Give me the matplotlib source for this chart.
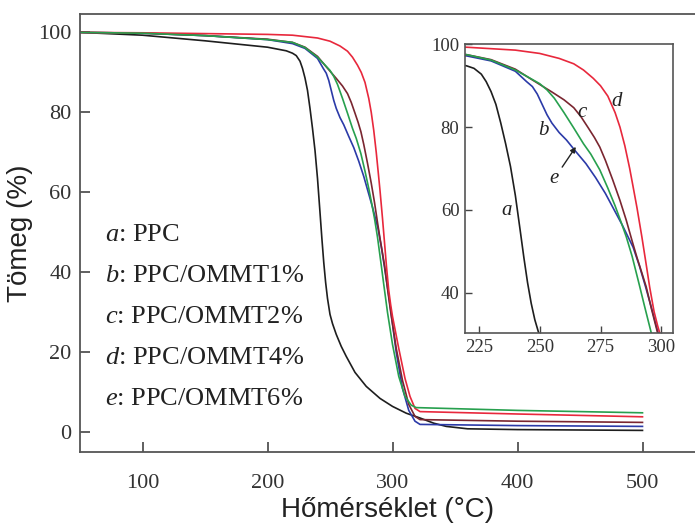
import matplotlib
matplotlib.use('Agg')
import matplotlib.pyplot as plt

plt.rcParams['mathtext.fontset'] = 'custom'
plt.rcParams['mathtext.it'] = 'Liberation Serif:italic'
plt.rcParams['mathtext.rm'] = 'Liberation Serif'

# data (temperature in C, mass in %)
t_a = [50, 100, 150, 200, 215, 220, 223, 226, 228, 230, 232, 234, 236, 238, 240, 242, 243.5,
       245, 246.5, 248, 250, 252, 255, 259, 263, 270, 279, 290, 300, 311, 322, 333, 343, 360,
       400, 450, 500]
w_a = [100, 99.3, 97.9, 96.3, 95.4, 94.8, 94.2, 92.8, 91.0, 88.6, 85.5, 81.0, 76.0, 70.5, 63.5,
       55.0, 48.5, 42.5, 37.5, 33.5, 29.5, 27.2, 24.5, 21.5, 19.0, 15.0, 11.5, 8.5, 6.5, 4.8,
       3.6, 2.3, 1.5, 0.9, 0.7, 0.6, 0.5]

t_b = [50, 100, 150, 200, 220, 230, 240, 244.6, 247, 249, 251, 253, 255, 258, 261, 265, 269,
       273, 277, 280, 284, 288.4, 291, 293.5, 296.6, 298.6, 303, 308, 313, 318, 322, 400, 500]
w_b = [100, 99.8, 99.2, 98.2, 97.2, 96.0, 93.5, 91.0, 89.8, 88.0, 85.5, 83.0, 81.0, 78.7, 76.9,
       74.0, 71.2, 67.8, 64.0, 60.7, 56.3, 51.0, 46.5, 41.5, 35.0, 30.5, 20.0, 11.0, 5.5, 2.8,
       2.0, 1.7, 1.5]

t_c = [50, 100, 150, 200, 220, 230, 240, 247, 255, 260, 264, 267, 270, 272.5, 274.7, 277, 280,
       283, 285.6, 288, 290, 292, 293.8, 296, 298.6, 303, 308, 313, 318, 322, 400, 500]
w_c = [100, 99.8, 99.2, 98.3, 97.5, 96.3, 94.0, 91.4, 88.5, 86.6, 84.7, 82.5, 79.8, 77.5, 75.2,
       72.0, 67.3, 62.3, 57.5, 52.5, 48.5, 44.8, 41.4, 36.0, 30.0, 21.0, 13.0, 7.0, 4.0, 3.2,
       2.8, 2.5]

t_d = [50, 100, 150, 200, 220, 240, 250, 258, 264, 268, 272, 275, 278, 281, 283, 285, 287,
       288.4, 290, 292, 294, 295.2, 297, 298.5, 300, 305, 310, 314, 318, 322, 400, 500]
w_d = [100, 99.9, 99.7, 99.5, 99.3, 98.6, 97.8, 96.6, 95.3, 93.8, 91.8, 90.0, 87.5, 83.5, 80.0,
       75.5, 70.0, 65.6, 60.5, 53.5, 46.0, 41.4, 35.5, 32.0, 29.0, 21.0, 13.5, 9.0, 6.0, 5.2,
       4.6, 3.9]

t_e = [50, 100, 150, 200, 220, 230, 240, 247, 250, 253, 256, 260, 264, 268, 271, 274.7, 278,
       281, 283.5, 285.6, 288, 291, 293, 296, 300, 305, 310, 315, 319, 400, 500]
w_e = [100, 99.8, 99.2, 98.2, 97.5, 96.2, 93.8, 91.5, 90.5, 89.0, 87.0, 83.5, 79.8, 76.0, 73.5,
       69.7, 65.3, 61.0, 57.0, 53.5, 48.8, 41.8, 37.0, 30.0, 22.0, 14.0, 9.0, 6.8, 6.2, 5.5, 4.9]

series = [
    ('a', 'PPC', t_a, w_a, '#1e1e1e'),
    ('b', 'PPC/OMMT1%', t_b, w_b, '#2b3aa8'),
    ('c', 'PPC/OMMT2%', t_c, w_c, '#7a2630'),
    ('d', 'PPC/OMMT4%', t_d, w_d, '#e8283c'),
    ('e', 'PPC/OMMT6%', t_e, w_e, '#27a04e'),
]

W, H = 695, 531
fig = plt.figure(figsize=(W / 100, H / 100), dpi=100)
ax = fig.add_axes([80 / W, (H - 452) / H, (W - 80) / W, (452 - 14) / H])

for key, name, t, w, col in series:
    ax.plot(t, w, color=col, lw=1.2)

ax.set_xlim(50, 542)
ax.set_ylim(-4.9, 104.6)
ax.set_xticks([100, 200, 300, 400, 500])
ax.set_yticks([0, 20, 40, 60, 80, 100])
ax.spines['right'].set_visible(False)
for s in ax.spines.values():
    s.set_color('#555555')
    s.set_linewidth(1.3)
ax.tick_params(direction='in', length=7, width=1.2, color='#444444', labelcolor='#333333',
               labelsize=16)
ax.tick_params(axis='x', pad=16)
ax.tick_params(axis='y', pad=6)
for lab in ax.get_xticklabels() + ax.get_yticklabels():
    lab.set_family('Liberation Serif')

ax.set_xlabel('Hőmérséklet (°C)', fontsize=20, family='Liberation Sans', color='#222222',
              labelpad=3)
ax.set_ylabel('Tömeg (%)', fontsize=20, family='Liberation Sans', color='#222222', labelpad=4)

# legend text
ys = [235, 276, 317, 358, 399]
for (key, name, t, w, col), yp in zip(series, ys):
    fig.text(105 / W, (H - yp) / H, '$' + key + '$: ' + name, fontsize=19,
             family='Liberation Serif', color='#222222', va='center', ha='left')

# inset
ins = fig.add_axes([465 / W, (H - 333) / H, (673.5 - 465) / W, (333 - 43.5) / H])
for key, name, t, w, col in series:
    ins.plot(t, w, color=col, lw=1.2)
ins.set_xlim(219.3, 305)
ins.set_ylim(30.3, 100.2)
ins.set_xticks([225, 250, 275, 300])
ins.set_yticks([40, 60, 80, 100])
for s in ins.spines.values():
    s.set_color('#555555')
    s.set_linewidth(1.2)
ins.tick_params(direction='in', length=5, width=1.0, color='#444444', labelcolor='#333333',
                labelsize=13.5, pad=4)
for lab in ins.get_xticklabels() + ins.get_yticklabels():
    lab.set_family('Liberation Serif')

lbl_pos = {'a': (236.4, 59.9), 'b': (251.4, 79.3), 'c': (267.5, 83.5), 'd': (281.5, 86.1),
           'e': (255.8, 67.6)}
for key, (x, y) in lbl_pos.items():
    ins.text(x, y, key, fontsize=15, family='Liberation Serif', style='italic',
             color='#222222', ha='center', va='center')
ins.annotate('', xy=(265.5, 75.8), xytext=(258.6, 69.8),
             arrowprops=dict(arrowstyle='-|>', color='#222222', lw=1.0, mutation_scale=8))

fig.savefig('out.png', dpi=100)
